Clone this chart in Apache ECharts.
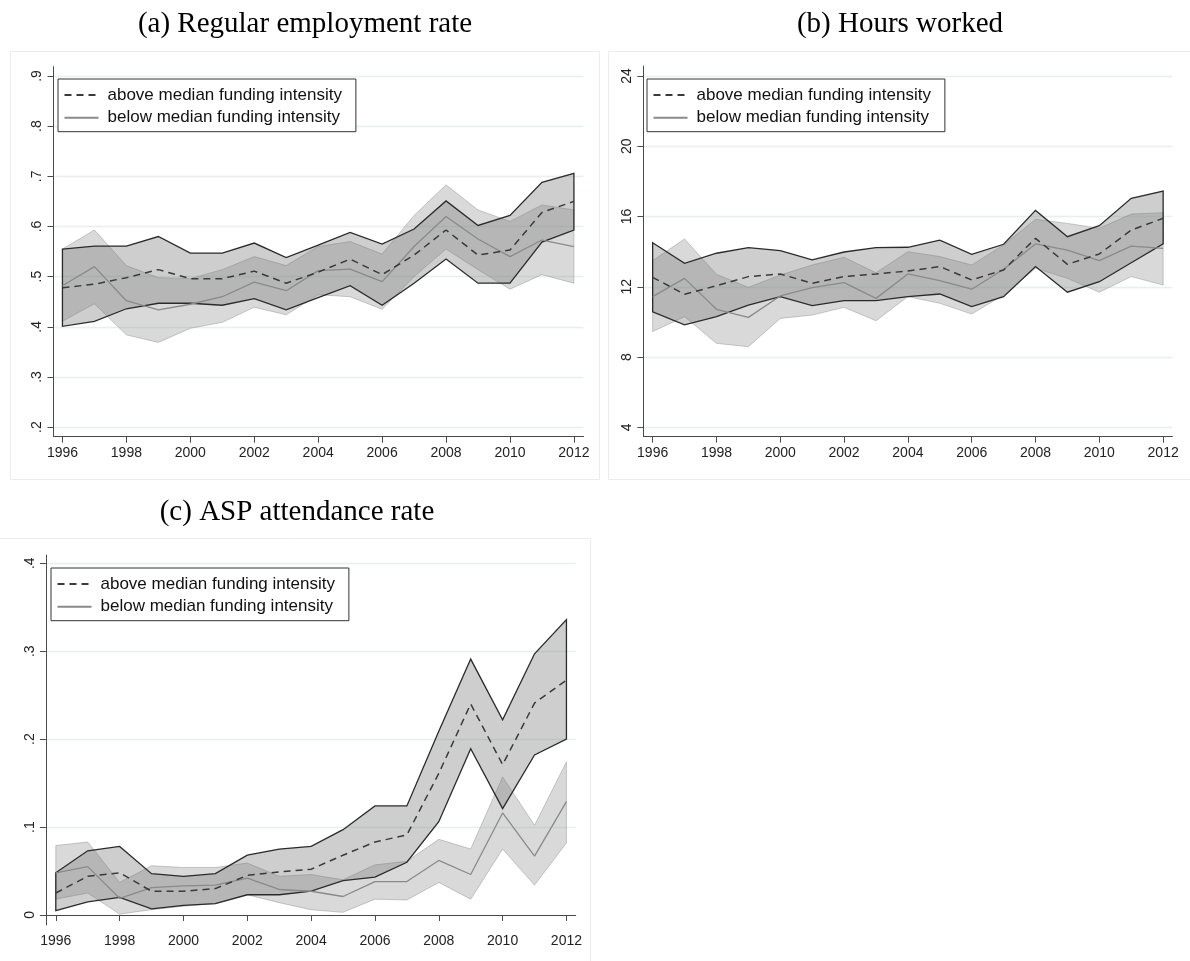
<!DOCTYPE html>
<html>
<head>
<meta charset="utf-8">
<script src="https://cdn.jsdelivr.net/npm/echarts@6/dist/echarts.min.js"></script>
<style>
html, body { margin: 0; padding: 0; background: #fff; }
#chart { width: 1190px; height: 961px; }
</style>
</head>
<body>
<div id="chart"></div>
<script>
// Survey years
const years = [1996, 1997, 1998, 1999, 2000, 2001, 2002, 2003, 2004, 2005, 2006, 2007, 2008, 2009, 2010, 2011, 2012];
const yearTicks = [1996, 1998, 2000, 2002, 2004, 2006, 2008, 2010, 2012];

// Series names
const nameAbove = 'above median funding intensity';
const nameBelow = 'below median funding intensity';

// Panel titles
const titleEmp = '(a) Regular employment rate';
const titleHrs = '(b) Hours worked';
const titleAsp = '(c) ASP attendance rate';

// (a) Regular employment rate: means and 95% confidence bounds
const empAboveMean = [0.478, 0.485, 0.498, 0.514, 0.496, 0.496, 0.511, 0.487, 0.509, 0.535, 0.504, 0.543, 0.593, 0.543, 0.553, 0.628, 0.650];
const empAboveLo   = [0.401, 0.411, 0.436, 0.447, 0.447, 0.443, 0.456, 0.434, 0.458, 0.482, 0.443, 0.487, 0.535, 0.487, 0.487, 0.569, 0.593];
const empAboveHi   = [0.555, 0.561, 0.561, 0.580, 0.547, 0.547, 0.567, 0.538, 0.563, 0.588, 0.565, 0.595, 0.651, 0.602, 0.622, 0.688, 0.706];
const empBelowMean = [0.482, 0.520, 0.452, 0.434, 0.445, 0.460, 0.489, 0.472, 0.512, 0.515, 0.490, 0.560, 0.620, 0.575, 0.540, 0.573, 0.560];
const empBelowLo   = [0.411, 0.446, 0.384, 0.369, 0.397, 0.409, 0.439, 0.424, 0.464, 0.460, 0.435, 0.500, 0.555, 0.514, 0.475, 0.504, 0.487];
const empBelowHi   = [0.555, 0.593, 0.522, 0.498, 0.496, 0.514, 0.540, 0.522, 0.560, 0.570, 0.545, 0.622, 0.683, 0.633, 0.610, 0.643, 0.633];
const empTicks = [0.2, 0.3, 0.4, 0.5, 0.6, 0.7, 0.8, 0.9];

// (b) Hours worked
const hrsAboveMean = [12.54, 11.57, 12.06, 12.58, 12.73, 12.20, 12.58, 12.73, 12.90, 13.15, 12.39, 12.96, 14.76, 13.28, 13.87, 15.23, 15.90];
const hrsAboveLo   = [10.58, 9.83, 10.30, 10.96, 11.44, 10.93, 11.21, 11.21, 11.44, 11.59, 10.87, 11.44, 13.15, 11.69, 12.29, 13.37, 14.44];
const hrsAboveHi   = [14.51, 13.34, 13.91, 14.23, 14.06, 13.53, 13.98, 14.23, 14.25, 14.66, 13.85, 14.42, 16.35, 14.85, 15.48, 17.04, 17.45];
const hrsBelowMean = [11.44, 12.48, 10.72, 10.26, 11.48, 11.95, 12.24, 11.34, 12.73, 12.35, 11.86, 13.00, 14.44, 14.09, 13.49, 14.32, 14.19];
const hrsBelowLo   = [9.45, 10.30, 8.78, 8.59, 10.20, 10.39, 10.83, 10.07, 11.44, 11.06, 10.45, 11.53, 13.05, 12.48, 11.69, 12.58, 12.10];
const hrsBelowHi   = [13.49, 14.72, 12.71, 11.97, 12.67, 13.24, 13.68, 12.80, 14.00, 13.72, 13.24, 14.38, 15.84, 15.61, 15.33, 16.14, 16.22];
const hrsTicks = [4, 8, 12, 16, 20, 24];

// (c) ASP attendance rate
const aspAboveMean = [0.025, 0.044, 0.048, 0.027, 0.027, 0.030, 0.045, 0.049, 0.052, 0.068, 0.083, 0.091, 0.161, 0.240, 0.171, 0.241, 0.267];
const aspAboveLo   = [0.005, 0.015, 0.020, 0.007, 0.011, 0.013, 0.023, 0.023, 0.027, 0.039, 0.043, 0.060, 0.106, 0.189, 0.121, 0.182, 0.200];
const aspAboveHi   = [0.048, 0.073, 0.078, 0.047, 0.044, 0.047, 0.068, 0.075, 0.078, 0.097, 0.124, 0.124, 0.209, 0.291, 0.222, 0.297, 0.336];
const aspBelowMean = [0.048, 0.055, 0.019, 0.031, 0.033, 0.034, 0.042, 0.029, 0.027, 0.021, 0.038, 0.038, 0.062, 0.046, 0.116, 0.067, 0.129];
const aspBelowLo   = [0.018, 0.025, 0.001, 0.006, 0.010, 0.013, 0.023, 0.014, 0.006, 0.003, 0.018, 0.017, 0.037, 0.018, 0.075, 0.034, 0.082];
const aspBelowHi   = [0.079, 0.083, 0.037, 0.056, 0.054, 0.054, 0.059, 0.044, 0.046, 0.040, 0.057, 0.061, 0.086, 0.075, 0.157, 0.102, 0.174];
const aspTicks = [0, 0.1, 0.2, 0.3, 0.4];

const SANS = 'Liberation Sans, Arial, sans-serif';
const SERIF = 'Liberation Serif, Times New Roman, serif';
const AXIS_COLOR = '#4a4a4a';
const GRID_COLOR = '#e7eff0';

// Stata-style decimal labels: ".3", "0"
function rateLabel(v) {
  const s = (+v).toFixed(1);
  return s === '0.0' ? '0' : s.replace(/^0/, '');
}

const panels = [
  {
    grid: { left: 53.5, top: 66.7, width: 530, height: 370 },
    xRange: [1995.72, 2012.30], yRange: [0.181, 0.9185], yTicks: empTicks, fmt: rateLabel,
    above: [empAboveMean, empAboveLo, empAboveHi], below: [empBelowMean, empBelowLo, empBelowHi],
    legend: { left: 58, top: 79 }
  },
  {
    grid: { left: 643.4, top: 66, width: 529, height: 370.7 },
    xRange: [1995.71, 2012.29], yRange: [3.465, 24.57], yTicks: hrsTicks, fmt: v => String(v),
    above: [hrsAboveMean, hrsAboveLo, hrsAboveHi], below: [hrsBelowMean, hrsBelowLo, hrsBelowHi],
    legend: { left: 647, top: 79 }
  },
  {
    grid: { left: 45.9, top: 555, width: 529.8, height: 370 },
    xRange: [1995.69, 2012.29], yRange: [-0.0114, 0.4094], yTicks: aspTicks, fmt: rateLabel,
    above: [aspAboveMean, aspAboveLo, aspAboveHi], below: [aspBelowMean, aspBelowLo, aspBelowHi],
    legend: { left: 51, top: 568 }
  }
];

// Confidence band drawn as one closed polygon (upper bound forward, lower bound back)
function bandSeries(idx, lo, hi, fill, stroke, width) {
  return {
    type: 'custom',
    xAxisIndex: idx, yAxisIndex: idx,
    silent: true,
    clip: true,
    data: years.map((y, i) => [y, lo[i], hi[i]]),
    encode: { x: 0, y: [1, 2] },
    renderItem(params, api) {
      if (params.dataIndex !== 0) return null;
      const pts = [];
      for (let i = 0; i < years.length; i++) pts.push(api.coord([years[i], hi[i]]));
      for (let i = years.length - 1; i >= 0; i--) pts.push(api.coord([years[i], lo[i]]));
      return {
        type: 'polygon',
        shape: { points: pts },
        style: { fill: fill, stroke: stroke, lineWidth: width, lineJoin: 'miter' }
      };
    }
  };
}

function meanSeries(idx, name, vals, color, width, type) {
  return {
    type: 'line', name: name,
    xAxisIndex: idx, yAxisIndex: idx,
    data: years.map((y, i) => [y, vals[i]]),
    symbol: 'none', silent: true,
    lineStyle: { color: color, width: width, type: type },
    itemStyle: { color: color },
    z: 5
  };
}

const grids = [], xAxes = [], yAxes = [], series = [], legends = [];
panels.forEach((p, idx) => {
  grids.push(p.grid);
  xAxes.push({
    type: 'value', gridIndex: idx,
    min: p.xRange[0], max: p.xRange[1],
    axisLine: { show: true, lineStyle: { color: AXIS_COLOR, width: 1 } },
    axisTick: { show: true, length: 6, customValues: yearTicks, lineStyle: { color: AXIS_COLOR } },
    axisLabel: { customValues: yearTicks, formatter: v => String(v), fontFamily: SANS, fontSize: 14, color: '#222', margin: 9 },
    splitLine: { show: false }
  });
  yAxes.push({
    type: 'value', gridIndex: idx,
    min: p.yRange[0], max: p.yRange[1],
    axisLine: { show: true, lineStyle: { color: AXIS_COLOR, width: 1 } },
    axisTick: { show: true, length: 6, customValues: p.yTicks, lineStyle: { color: AXIS_COLOR } },
    axisLabel: { customValues: p.yTicks, formatter: p.fmt, rotate: 90, fontFamily: SANS, fontSize: 14, color: '#222', margin: 9 },
    splitLine: { show: true, lineStyle: { color: GRID_COLOR, width: 1.3 } }
  });
  const [bm, bl, bh] = p.below;
  const [am, al, ah] = p.above;
  series.push(bandSeries(idx, bl, bh, 'rgba(150,150,150,0.36)', 'rgba(140,140,140,0.45)', 1));
  series.push(bandSeries(idx, al, ah, 'rgba(118,118,118,0.36)', '#2a2a2a', 1.3));
  series.push(meanSeries(idx, nameBelow, bm, '#8a8a8a', 1.3, 'solid'));
  series.push(meanSeries(idx, nameAbove, am, '#3a3a3a', 1.5, [7, 5]));
  legends.push({
    left: p.legend.left, top: p.legend.top,
    orient: 'vertical',
    data: [nameAbove, nameBelow],
    selectedMode: false,
    itemWidth: 34, itemHeight: 14, itemGap: 5.7,
    itemStyle: { opacity: 0 },
    padding: [7.5, 14, 5.5, 5.5],
    borderColor: '#333', borderWidth: 1, backgroundColor: '#fff',
    textStyle: { fontFamily: SANS, fontSize: 17, color: '#111', lineHeight: 17, padding: [0, 0, 0, 4] }
  });
});

const chart = echarts.init(document.getElementById('chart'), null, { renderer: 'canvas' });
chart.setOption({
  animation: false,
  backgroundColor: '#fff',
  title: [
    { text: titleEmp, left: 300, top: 5, textAlign: 'center', textStyle: { fontFamily: SERIF, fontSize: 29, fontWeight: 'normal', color: '#000' } },
    { text: titleHrs, left: 895, top: 5, textAlign: 'center', textStyle: { fontFamily: SERIF, fontSize: 29, fontWeight: 'normal', color: '#000' } },
    { text: titleAsp, left: 292, top: 493, textAlign: 'center', textStyle: { fontFamily: SERIF, fontSize: 29, fontWeight: 'normal', color: '#000' } }
  ],
  // faint outer borders of each graph region
  graphic: [
    { type: 'rect', silent: true, z: -1, shape: { x: 10.5, y: 51.5, width: 589, height: 428 }, style: { fill: 'none', stroke: '#ececec', lineWidth: 1 } },
    { type: 'rect', silent: true, z: -1, shape: { x: 608.5, y: 51.5, width: 590, height: 428 }, style: { fill: 'none', stroke: '#ececec', lineWidth: 1 } },
    { type: 'rect', silent: true, z: -1, shape: { x: -1, y: 538.5, width: 591.5, height: 430 }, style: { fill: 'none', stroke: '#ececec', lineWidth: 1 } }
  ],
  grid: grids,
  xAxis: xAxes,
  yAxis: yAxes,
  legend: legends,
  series: series
});
</script>
</body>
</html>
